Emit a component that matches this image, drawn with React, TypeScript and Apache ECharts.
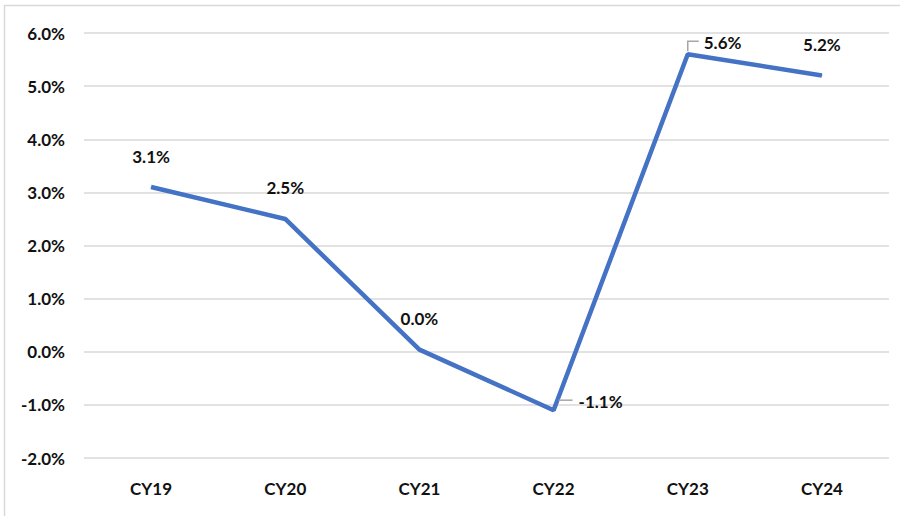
import React, { useEffect, useRef } from "react";
import * as echarts from "echarts";

const categories = ["CY19", "CY20", "CY21", "CY22", "CY23", "CY24"];
const growth = [3.1, 2.5, 0.04, -1.1, 5.6, 5.2];
const labelTexts = ["3.1%", "2.5%", "0.0%", "-1.1%", "5.6%", "5.2%"];

const FONT = "Lato, 'Open Sans', sans-serif";

export default function App() {
  const ref = useRef<HTMLDivElement>(null);
  useEffect(() => {
    if (!ref.current) return;
    const chart = echarts.init(ref.current, undefined, { renderer: "svg" });
    const border = {
      type: "rect",
      shape: { x: 4.5, y: 5.5, width: 1000, height: 1000 },
      style: { fill: "none", stroke: "#d9d9d9", lineWidth: 1.5 },
      silent: true,
      z: -1,
    };
    chart.setOption({
      animation: false,
      backgroundColor: "#ffffff",
      graphic: [border],
      grid: { left: 84, right: 11, top: 33, bottom: 58 },
      xAxis: {
        type: "category",
        data: categories,
        boundaryGap: true,
        axisLine: { show: false },
        axisTick: { show: false },
        axisLabel: {
          margin: 22,
          color: "#111",
          fontFamily: FONT,
          fontWeight: "bold",
          fontSize: 17,
        },
      },
      yAxis: {
        type: "value",
        min: -2,
        max: 6,
        interval: 1,
        axisLine: { show: false },
        axisTick: { show: false },
        splitLine: { lineStyle: { color: "#d9d9d9", width: 1.5 } },
        axisLabel: {
          margin: 19,
          color: "#111",
          fontFamily: FONT,
          fontWeight: "bold",
          fontSize: 17,
          formatter: (v: number) => v.toFixed(1) + "%",
        },
      },
      series: [
        {
          type: "line",
          data: growth,
          showSymbol: true,
          symbol: "circle",
          symbolSize: 1,
          itemStyle: { color: "#4472C4" },
          lineStyle: { color: "#4472C4", width: 4.5 },
          label: {
            show: true,
            position: "top",
            distance: 22,
            color: "#111",
            fontFamily: FONT,
            fontWeight: "bold",
            fontSize: 17,
            formatter: (p: any) => labelTexts[p.dataIndex],
          },
          labelLayout: (p: any) => {
            const cx = p.rect.x + p.rect.width / 2;
            const cy = p.rect.y + p.rect.height / 2;
            if (p.dataIndex === 4) {
              return { x: cx + 16, y: cy - 12, align: "left", verticalAlign: "middle" };
            }
            if (p.dataIndex === 3) {
              return { x: cx + 25, y: cy - 9, align: "left", verticalAlign: "middle" };
            }
            return {};
          },
        },
      ],
    });
    const p4 = chart.convertToPixel({ seriesIndex: 0 }, [4, growth[4]]) as number[];
    const p3 = chart.convertToPixel({ seriesIndex: 0 }, [3, growth[3]]) as number[];
    const leader = { stroke: "#a6a6a6", lineWidth: 1.5, fill: "none" };
    chart.setOption({
      graphic: [
        border,
        {
          type: "polyline",
          silent: true,
          shape: {
            points: [
              [p4[0], p4[1] - 3],
              [p4[0], p4[1] - 13],
              [p4[0] + 11, p4[1] - 13],
            ],
          },
          style: leader,
          z: 10,
        },
        {
          type: "polyline",
          silent: true,
          shape: {
            points: [
              [p3[0] + 5, p3[1] - 10],
              [p3[0] + 19, p3[1] - 10],
            ],
          },
          style: leader,
          z: 10,
        },
      ],
    });
    return () => chart.dispose();
  }, []);
  return (
    <div
      ref={ref}
      style={{ position: "fixed", left: 0, top: 0, width: 900, height: 516 }}
    />
  );
}
